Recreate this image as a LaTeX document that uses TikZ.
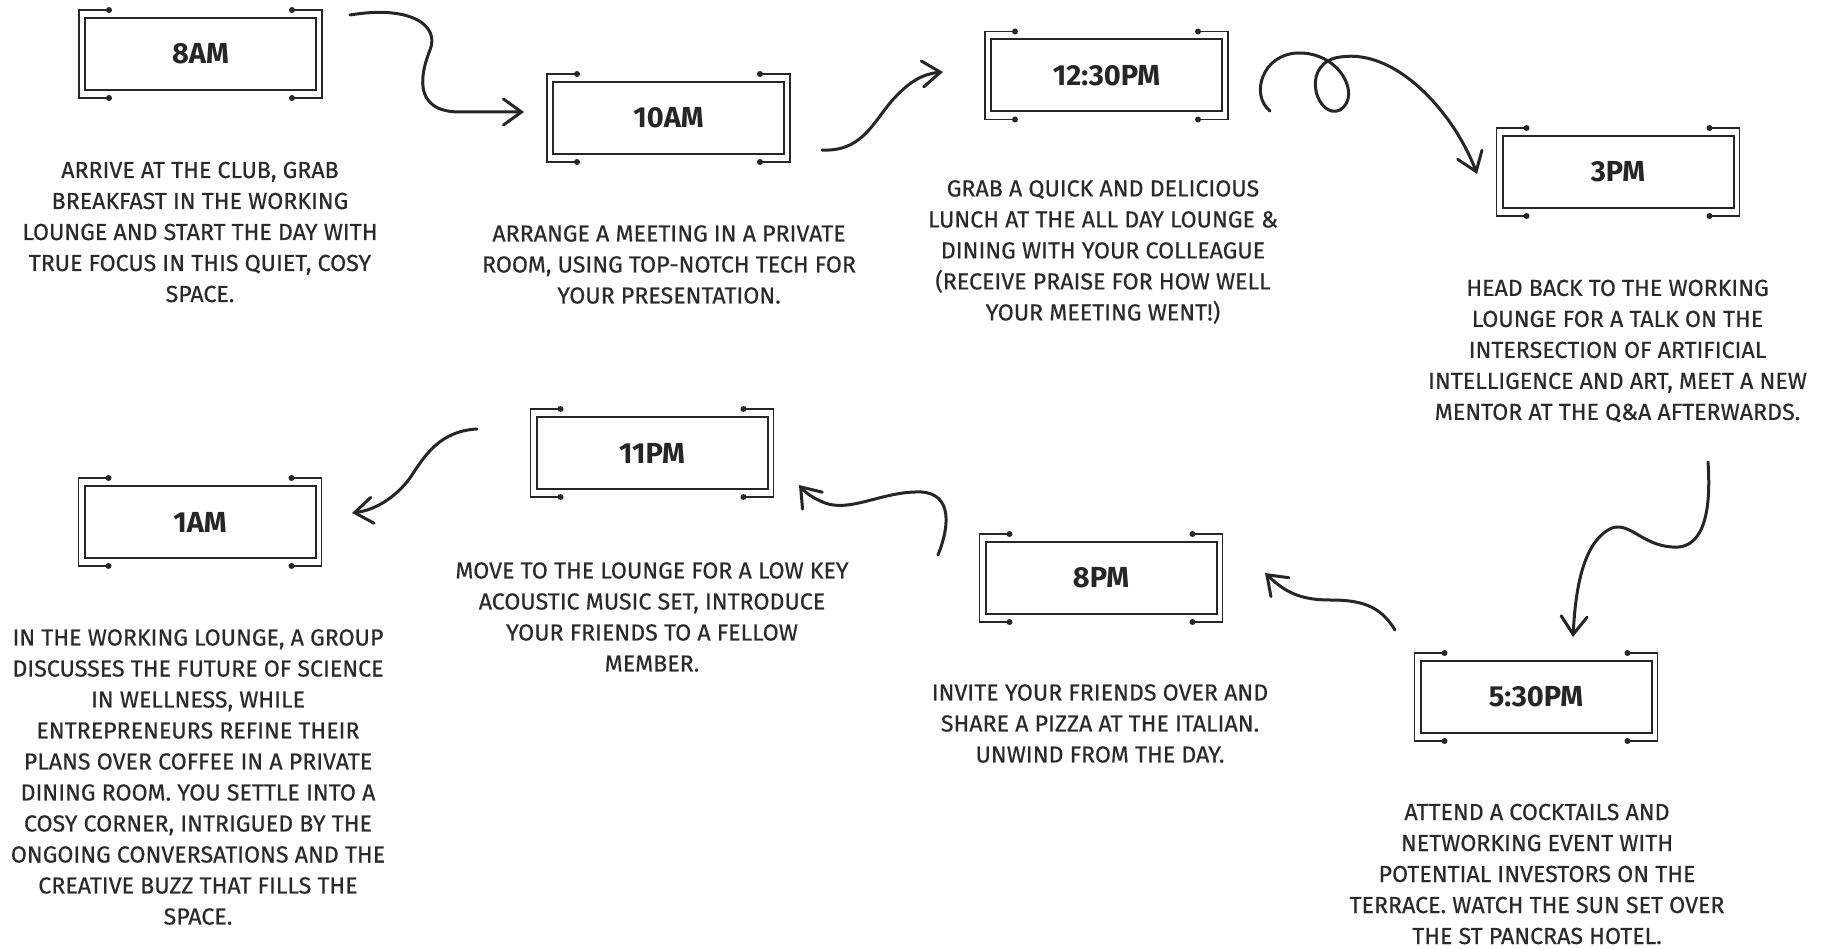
\documentclass[tikz,border=0pt]{standalone}
\usepackage{fontspec}
\setmainfont{Fira Sans}
\newfontfamily\bodyfont{Fira Sans}[FakeBold=0.4]
\usetikzlibrary{arrows.meta}
\definecolor{ink}{HTML}{262626}
\definecolor{txt}{HTML}{2A2A2A}
\tikzset{
  inbox/.style={draw=ink, line width=2pt, minimum width=231pt, minimum height=72pt,
    inner sep=0pt, outer sep=0pt, text=ink,
    font=\bfseries\fontsize{29}{32}\selectfont},
  bracket/.style={draw=ink, line width=1.8pt},
  desc/.style={align=center, inner sep=0pt, text=txt,
    font=\bodyfont\fontsize{23.2}{31}\selectfont},
  flow/.style={draw=ink, line width=3pt, line cap=round,
    -{Straight Barb[length=18pt,width=26pt,line cap=round]}},
}
\newcommand{\tbox}[4]{%
  \node[inbox] (#1) at (#2,#3) {#4};
  \draw[bracket] ([shift={(24,-8)}]#1.north west) -- ([shift={(-6,-8)}]#1.north west)
     -- ([shift={(-6,8)}]#1.south west) -- ([shift={(24,8)}]#1.south west);
  \draw[bracket] ([shift={(-24,-8)}]#1.north east) -- ([shift={(6,-8)}]#1.north east)
     -- ([shift={(6,8)}]#1.south east) -- ([shift={(-24,8)}]#1.south east);
  \fill[ink] ([shift={(24,-8)}]#1.north west) circle (3pt);
  \fill[ink] ([shift={(24,8)}]#1.south west) circle (3pt);
  \fill[ink] ([shift={(-24,-8)}]#1.north east) circle (3pt);
  \fill[ink] ([shift={(-24,8)}]#1.south east) circle (3pt);
}
\begin{document}
\begin{tikzpicture}[x=1pt,y=-1pt]
\fill[white] (0,0) rectangle (1825,949);
\useasboundingbox (0,0) rectangle (1825,949);

\tbox{b1}{200.5}{54}{8AM}
\tbox{b2}{668.5}{118}{10AM}
\tbox{b3}{1106.5}{75.5}{12:30PM}
\tbox{b4}{1618}{172}{3PM}
\tbox{b5}{1536}{697}{5:30PM}
\tbox{b6}{1101}{578}{8PM}
\tbox{b7}{652}{453}{11PM}
\tbox{b8}{200}{522}{1AM}

\node[desc] (t1) at (200,232) {ARRIVE AT THE CLUB, GRAB\\BREAKFAST IN THE WORKING\\LOUNGE AND START THE DAY WITH\\TRUE FOCUS IN THIS QUIET, COSY\\SPACE.};
\node[desc] (t2) at (669,264.5) {ARRANGE A MEETING IN A PRIVATE\\ROOM, USING TOP-NOTCH TECH FOR\\YOUR PRESENTATION.};
\node[desc] (t3) at (1103,252) {GRAB A QUICK AND DELICIOUS\\LUNCH AT THE ALL DAY LOUNGE \&\\DINING WITH YOUR COLLEAGUE\\(RECEIVE PRAISE FOR HOW WELL\\YOUR MEETING WENT!)};
\node[desc] (t4) at (1617.5,351) {HEAD BACK TO THE WORKING\\LOUNGE FOR A TALK ON THE\\INTERSECTION OF ARTIFICIAL\\INTELLIGENCE AND ART, MEET A NEW\\MENTOR AT THE Q\&A AFTERWARDS.};
\node[desc] (t5) at (1537,874) {ATTEND A COCKTAILS AND\\NETWORKING EVENT WITH\\POTENTIAL INVESTORS ON THE\\TERRACE. WATCH THE SUN SET OVER\\THE ST PANCRAS HOTEL.};
\node[desc] (t6) at (1100,723.5) {INVITE YOUR FRIENDS OVER AND\\SHARE A PIZZA AT THE ITALIAN.\\UNWIND FROM THE DAY.};
\node[desc] (t7) at (652,617) {MOVE TO THE LOUNGE FOR A LOW KEY\\ACOUSTIC MUSIC SET, INTRODUCE\\YOUR FRIENDS TO A FELLOW\\MEMBER.};
\node[desc] (t8) at (198,777) {IN THE WORKING LOUNGE, A GROUP\\DISCUSSES THE FUTURE OF SCIENCE\\IN WELLNESS, WHILE\\ENTREPRENEURS REFINE THEIR\\PLANS OVER COFFEE IN A PRIVATE\\DINING ROOM. YOU SETTLE INTO A\\COSY CORNER, INTRIGUED BY THE\\ONGOING CONVERSATIONS AND THE\\CREATIVE BUZZ THAT FILLS THE\\SPACE.};

% connector end points
\coordinate (s1) at (350,15);   \coordinate (e1) at (524,112);
\coordinate (s2) at (822,150);  \coordinate (e2) at (943,72);
\coordinate (s3) at (1270,111); \coordinate (e3) at (1477,174);
\coordinate (s4) at (1708,462); \coordinate (e4) at (1573,637);
\coordinate (s5) at (1395,630); \coordinate (e5) at (1265,573);
\coordinate (s6) at (938,555);  \coordinate (e6) at (799,485);
\coordinate (s7) at (477,429);  \coordinate (e7) at (352,513);

\draw[flow] (s1) .. controls (410,5) and (440,25) .. (430,50)
  .. controls (422,70) and (410,112) .. (460,112) -- (e1);
\draw[flow] (s2) .. controls (860,152) and (872,125) .. (890,103)
  .. controls (908,82) and (922,74) .. (e2);
\draw[flow] (s3) .. controls (1250,95) and (1262,54) .. (1298,53)
  .. controls (1340,52) and (1362,96) .. (1340,110)
  .. controls (1318,120) and (1300,68) .. (1335,58)
  .. controls (1395,44) and (1455,115) .. (e3);
\draw[flow] (s4) .. controls (1712,520) and (1700,550) .. (1672,547)
  .. controls (1642,545) and (1630,522) .. (1612,528)
  .. controls (1580,542) and (1575,600) .. (e4);
\draw[flow] (s5) .. controls (1380,605) and (1360,600) .. (1330,600)
  .. controls (1300,600) and (1285,592) .. (e5);
\draw[flow] (s6) .. controls (952,520) and (950,490) .. (915,492)
  .. controls (880,493) and (850,512) .. (825,503)
  .. controls (812,498) and (805,492) .. (e6);
\draw[flow] (s7) .. controls (440,431) and (425,455) .. (410,478)
  .. controls (395,498) and (375,510) .. (e7);
\end{tikzpicture}
\end{document}
